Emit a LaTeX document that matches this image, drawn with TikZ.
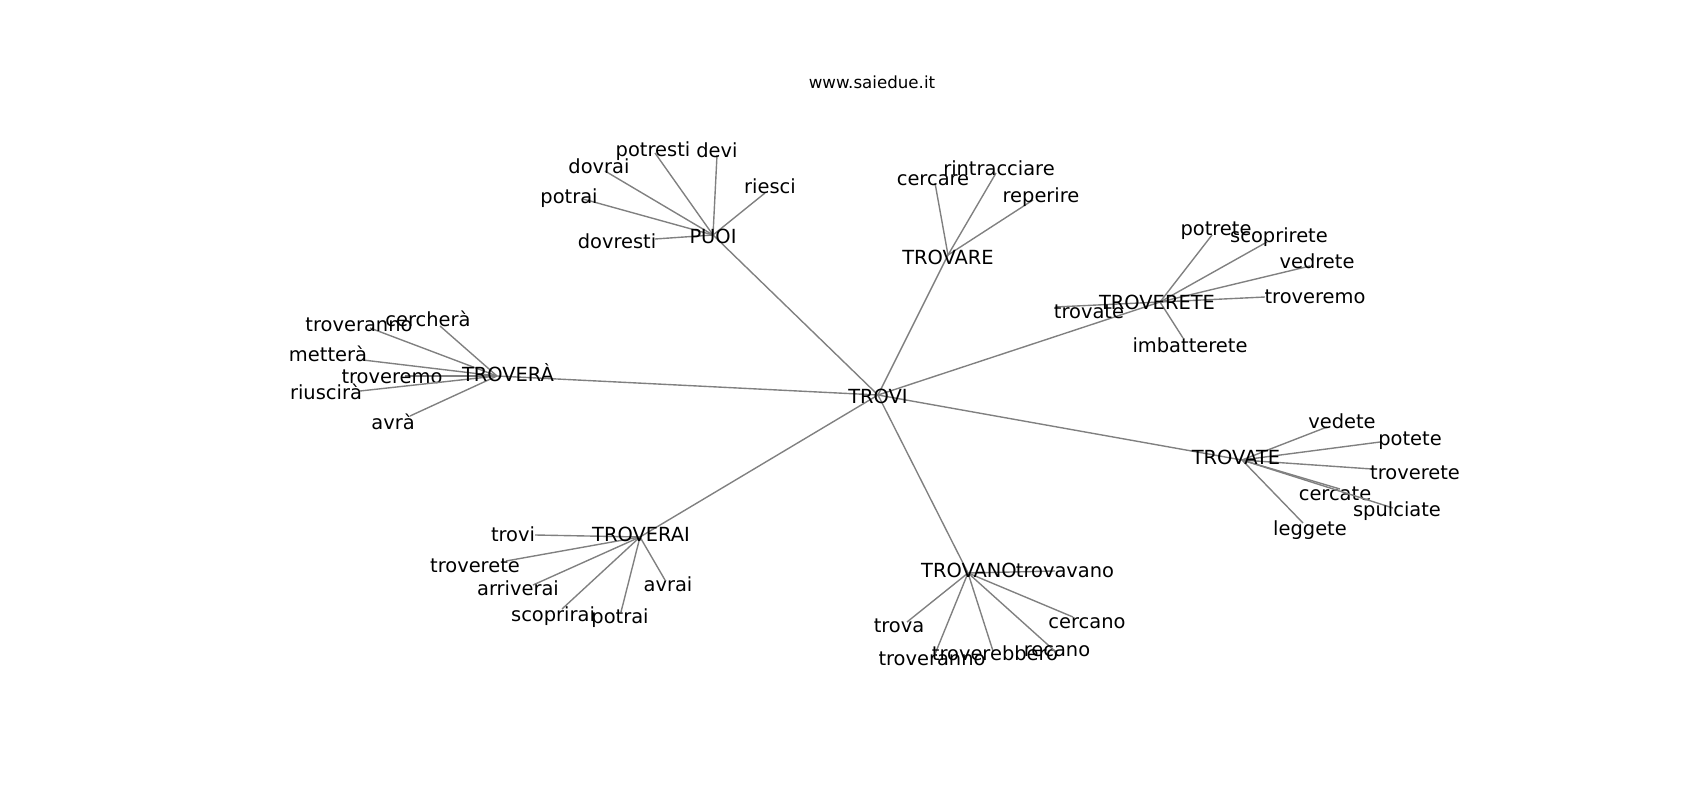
\documentclass[tikz,border=0pt]{standalone}
\usepackage{fontspec}
\setmainfont{DejaVu Sans}
\tikzset{
  edge/.style={draw=gray,line width=1bp},
  word/.style={inner sep=0pt,text height=0.76em,text depth=0.24em,yshift=-2.2bp,
    font=\fontsize{14bp}{17bp}\selectfont},
  sitetitle/.style={word,font=\fontsize{12bp}{14bp}\selectfont}
}
\begin{document}
\begin{tikzpicture}[x=0.72bp,y=-0.72bp]
  \useasboundingbox (0,0) rectangle (1700,800);
  \node[sitetitle] (site) at (872,82) {www.saiedue.it};
  % centre and the seven hubs
  \coordinate (trovi) at (878,395);
  \coordinate (puoi) at (713,235);
  \coordinate (trovera) at (497,376);
  \coordinate (trovare) at (948,255);
  \coordinate (troverete) at (1160,302);
  \coordinate (trovate) at (1242,460);
  \coordinate (troverai) at (640,537);
  \coordinate (trovano) at (968,573);
  \foreach \h in {puoi,trovera,trovare,troverete,trovate,troverai,trovano}
    \draw[edge] (trovi) -- (\h);
  % leaves of each hub
  \foreach \n/\px/\py/\tx/\ty/\w in {potresti/655/153/653/150/potresti,
      devi/717/155/717/151/devi, dovrai/605/171/599/167/dovrai,
      potrai/583/199/569/197/potrai, dovresti/655/239/617/242/dovresti,
      riesci/765/193/770/187/riesci}{
    \coordinate (puoi-\n) at (\px,\py);
    \draw[edge] (puoi) -- (puoi-\n);
    \node[word] (puoi-\n-w) at (\tx,\ty) {\w};
  }
  \foreach \n/\px/\py/\tx/\ty/\w in {cerchera/440/326/428/320/cercherà,
      troveranno/370/328/359/325/troveranno, mettera/363/360/328/355/metterà,
      troveremo/405/376/392/377/troveremo, riuscira/360/391/326/393/riuscirà,
      avra/410/416/393/423/avrà}{
    \coordinate (trovera-\n) at (\px,\py);
    \draw[edge] (trovera) -- (trovera-\n);
    \node[word] (trovera-\n-w) at (\tx,\ty) {\w};
  }
  \foreach \n/\px/\py/\tx/\ty/\w in {cercare/935/183/933/179/cercare,
      rintracciare/996/173/999/169/rintracciare,
      reperire/1033/200/1041/196/reperire}{
    \coordinate (trovare-\n) at (\px,\py);
    \draw[edge] (trovare) -- (trovare-\n);
    \node[word] (trovare-\n-w) at (\tx,\ty) {\w};
  }
  \foreach \n/\px/\py/\tx/\ty/\w in {potrete/1212/235/1216/229/potrete,
      scoprirete/1267/242/1279/236/scoprirete, vedrete/1310/266/1317/262/vedrete,
      troveremo/1265/297/1315/297/troveremo, trovate/1055/307/1089/312/trovate,
      imbatterete/1183/338/1190/346/imbatterete}{
    \coordinate (troverete-\n) at (\px,\py);
    \draw[edge] (troverete) -- (troverete-\n);
    \node[word] (troverete-\n-w) at (\tx,\ty) {\w};
  }
  \foreach \n/\px/\py/\tx/\ty/\w in {vedete/1327/427/1342/422/vedete,
      potete/1380/442/1410/439/potete, troverete/1372/469/1415/473/troverete,
      cercate/1340/489/1335/494/cercate, spulciate/1393/508/1397/510/spulciate,
      leggete/1303/523/1310/529/leggete}{
    \coordinate (trovate-\n) at (\px,\py);
    \draw[edge] (trovate) -- (trovate-\n);
    \node[word] (trovate-\n-w) at (\tx,\ty) {\w};
  }
  \foreach \n/\px/\py/\tx/\ty/\w in {trovi/535/535/513/535/trovi,
      troverete/506/561/475/566/troverete, arriverai/533/585/518/589/arriverai,
      scoprirai/562/609/553/615/scoprirai, potrai/621/612/620/617/potrai,
      avrai/665/580/668/585/avrai}{
    \coordinate (troverai-\n) at (\px,\py);
    \draw[edge] (troverai) -- (troverai-\n);
    \node[word] (troverai-\n-w) at (\tx,\ty) {\w};
  }
  \foreach \n/\px/\py/\tx/\ty/\w in {trovavano/1055/571/1065/571/trovavano,
      trova/907/622/899/626/trova, troveranno/935/654/932/659/troveranno,
      troverebbero/993/651/995/654/troverebbero, recano/1057/653/1057/650/recano,
      cercano/1073/617/1087/622/cercano}{
    \coordinate (trovano-\n) at (\px,\py);
    \draw[edge] (trovano) -- (trovano-\n);
    \node[word] (trovano-\n-w) at (\tx,\ty) {\w};
  }
  % hub labels on top
  \node[word] (trovi-w) at (878,397) {TROVI};
  \node[word] (puoi-w) at (713,237) {PUOI};
  \node[word] (trovera-w) at (508,375) {TROVERÀ};
  \node[word] (trovare-w) at (948,258) {TROVARE};
  \node[word] (troverete-w) at (1157,303) {TROVERETE};
  \node[word] (trovate-w) at (1236,458) {TROVATE};
  \node[word] (troverai-w) at (641,535) {TROVERAI};
  \node[word] (trovano-w) at (969,571) {TROVANO};
\end{tikzpicture}
\end{document}
